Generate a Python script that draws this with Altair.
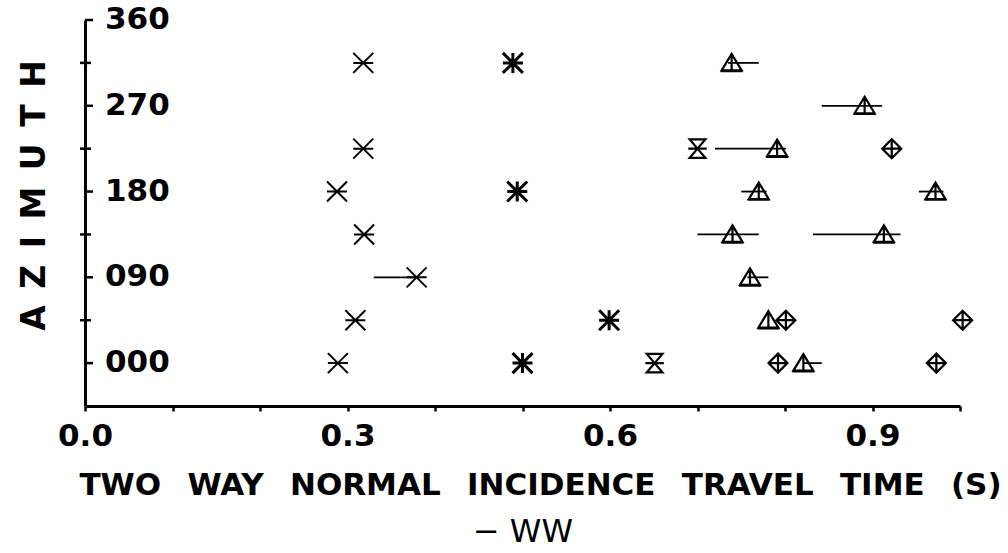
import altair as alt
import pandas as pd

# ---------------- data ----------------
# first column: X-with-bar markers
XCROSS_AZ = [0, 45, 90, 135, 180, 225, 315]
XCROSS_T = [0.289, 0.309, 0.379, 0.319, 0.288, 0.318, 0.318]
# bold asterisks
STAR_AZ = [0, 45, 180, 315]
STAR_T = [0.500, 0.599, 0.494, 0.489]
# hourglass markers
HOUR_AZ = [0, 225]
HOUR_T = [0.651, 0.700]
# triangles
TRI_AZ = [0, 45, 90, 135, 135, 180, 180, 225, 270, 315]
TRI_T = [0.821, 0.781, 0.760, 0.740, 0.913, 0.770, 0.972, 0.791, 0.891, 0.739]
# diamonds
DIAM_AZ = [0, 0, 45, 45, 225]
DIAM_T = [0.792, 0.973, 0.801, 1.003, 0.922]
# horizontal error bars
ERR_AZ = [90, 0, 90, 135, 135, 180, 180, 225, 270, 315]
ERR_LO = [0.330, 0.821, 0.757, 0.700, 0.832, 0.750, 0.953, 0.720, 0.842, 0.735]
ERR_HI = [0.379, 0.842, 0.781, 0.770, 0.932, 0.779, 0.981, 0.801, 0.911, 0.770]

# axes
X_TICKS = [0.0, 0.1, 0.2, 0.3, 0.4, 0.5, 0.6, 0.7, 0.8, 0.9, 1.0]
X_LABELS = ["0.0", "0.3", "0.6", "0.9"]
Y_LABEL_VALUES = [0, 90, 180, 270, 360]
Y_LABELS = ["000", "090", "180", "270", "360"]
Y_MINOR = [45, 135, 225, 315]
GAP = "\u2002 "
X_TITLE = GAP.join(["TWO", "WAY", "NORMAL", "INCIDENCE", "TRAVEL", "TIME", "(S)"])
LEGEND_TEXT = ["\u2212 WW"]
Y_TITLE = "\u2002".join("AZIMUTH")

# ---------------- marker shapes ----------------
SHAPES = {
    "xcross": "M-1,-1L1,1M-1,1L1,-1M-1,0L1,0",
    "star": "M-1,-1L1,1M-1,1L1,-1M-1,0L1,0M0,-1L0,1",
    "hour": "M-0.85,-1L0.85,-1L-0.85,1L0.85,1ZM-1,0L1,0",
    "tri": "M-1,0.75L0,-0.9L1,0.75ZM0,-0.9L0,0.75M-1.1,0.82L1.1,0.82",
    "diam": "M0,-1L1,0L0,1L-1,0ZM0,-1L0,1M-1,0L1,0",
}

series = [
    ("xcross", XCROSS_AZ, XCROSS_T, 400, 2.0),
    ("star", STAR_AZ, STAR_T, 400, 3.0),
    ("hour", HOUR_AZ, HOUR_T, 340, 2.2),
    ("tri", TRI_AZ, TRI_T, 400, 2.2),
    ("diam", DIAM_AZ, DIAM_T, 360, 2.2),
]

xscale = alt.Scale(domain=[0, 1.0], nice=False, zero=False)
yscale = alt.Scale(domain=[-45, 360], nice=False, zero=False)

labels_expr = (
    "indexof(" + str(X_LABELS) + ", format(datum.value, '.1f')) >= 0 ? format(datum.value, '.1f') : ''"
)

x_axis = alt.Axis(
    values=X_TICKS, labelExpr=labels_expr, grid=False,
    domainWidth=3, domainColor="black", tickColor="black", tickWidth=2.5, tickSize=5,
    labelFont="DejaVu Sans", labelFontSize=31, labelFontWeight="bold", labelColor="black",
    labelBaseline="alphabetic", labelPadding=34, labelFlush=False, labelOverlap=False,
    title=X_TITLE, titleFont="DejaVu Sans", titleFontSize=31, titleFontWeight="bold",
    titleColor="black", titleBaseline="alphabetic", titleY=88, titleX=455,
)
y_axis = alt.Axis(
    labels=False, ticks=False, grid=False, domainWidth=3, domainColor="black",
    title=Y_TITLE, titleFont="DejaVu Sans", titleFontSize=33, titleFontWeight="bold",
    titleColor="black", titleBaseline="alphabetic", titleX=-41, titleY=175, titleAngle=270,
)

err_df = pd.DataFrame({"az": ERR_AZ, "lo": ERR_LO, "hi": ERR_HI})
base = alt.Chart(err_df).mark_rule(color="black", strokeWidth=1.8).encode(
    x=alt.X("lo:Q", scale=xscale, axis=x_axis),
    x2="hi:Q",
    y=alt.Y("az:Q", scale=yscale, axis=y_axis),
)

layers = [base]

major_df = pd.DataFrame({"v": Y_LABEL_VALUES, "lab": Y_LABELS})
minor_df = pd.DataFrame({"v": Y_MINOR})
layers.append(
    alt.Chart(major_df).mark_rule(color="black", strokeWidth=2.5).encode(
        x=alt.value(0), x2=alt.value(8), y=alt.Y("v:Q", scale=yscale)
    )
)
layers.append(
    alt.Chart(minor_df).mark_rule(color="black", strokeWidth=2.5).encode(
        x=alt.value(-5), x2=alt.value(6), y=alt.Y("v:Q", scale=yscale)
    )
)
layers.append(
    alt.Chart(major_df).mark_text(
        align="left", baseline="middle", dx=20, font="DejaVu Sans", fontSize=31,
        fontWeight="bold", color="black"
    ).encode(x=alt.value(0), y=alt.Y("v:Q", scale=yscale), text="lab:N")
)

for kind, az, t, size, sw in series:
    df = pd.DataFrame({"az": az, "t": t})
    layers.append(
        alt.Chart(df).mark_point(
            shape=SHAPES[kind], size=size, filled=False, color="black",
            strokeWidth=sw, opacity=1,
        ).encode(x=alt.X("t:Q", scale=xscale), y=alt.Y("az:Q", scale=yscale))
    )

# legend-like second caption line "− WW" (regular weight)
legend_df = pd.DataFrame({"lab": LEGEND_TEXT})
layers.append(
    alt.Chart(legend_df).mark_text(
        align="center", baseline="alphabetic", font="DejaVu Sans", fontSize=32,
        color="black"
    ).encode(x=alt.value(438), y=alt.value(522), text="lab:N")
)

chart = alt.layer(*layers).properties(
    width=875, height=386,
    autosize=alt.AutoSizeParams(type="none"),
    padding={"left": 85, "top": 20, "right": 48, "bottom": 147},
    background="white",
).configure_view(stroke=None)

chart.save("out.html", embed_options={"renderer": "svg", "actions": False})
